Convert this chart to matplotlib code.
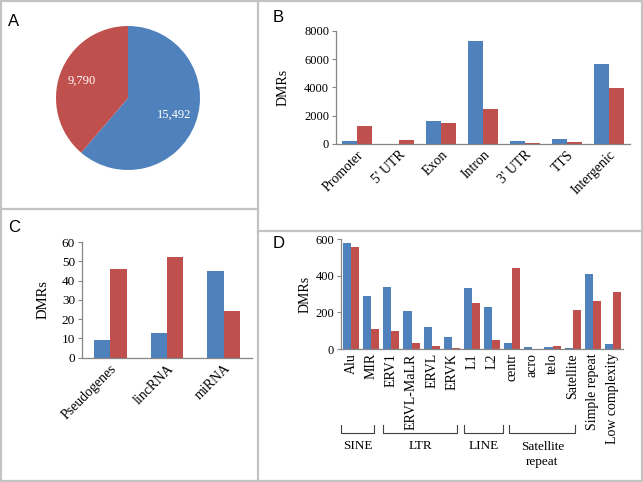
import matplotlib
matplotlib.use("Agg")
import matplotlib.pyplot as plt
from matplotlib.lines import Line2D
import matplotlib.transforms as mtransforms

# ---- data ----
pie_labels = ["15,492", "9,790"]
pie_values = [15492, 9790]

b_categories = ["Promoter", "5' UTR", "Exon", "Intron", "3' UTR", "TTS", "Intergenic"]
b_blue = [235, 0, 1624, 7294, 188, 353, 5670]
b_red = [1294, 282, 1482, 2470, 94, 141, 3929]
b_yticks = [0, 2000, 4000, 6000, 8000]

c_categories = ["Pseudogenes", "lincRNA", "miRNA"]
c_blue = [9, 13, 45]
c_red = [46, 52, 24]
c_yticks = [0, 10, 20, 30, 40, 50, 60]

d_categories = ["Alu", "MIR", "ERV1", "ERVL-MaLR", "ERVL", "ERVK", "L1", "L2",
                "centr", "acro", "telo", "Satellite", "Simple repeat", "Low complexity"]
d_blue = [578, 291, 336, 205, 122, 64, 333, 227, 31, 13, 11, 7, 411, 27]
d_red = [555, 109, 100, 35, 18, 7, 251, 51, 444, 0, 16, 211, 262, 311]
d_yticks = [0, 200, 400, 600]
d_groups = ["SINE", "LTR", "LINE", "Satellite\nrepeat"]

BLUE = "#4F81BD"
RED = "#C0504D"
AXC = "#868686"
SERIF = "Liberation Serif"
SANS = "Liberation Sans"

W, H = 643, 482
fig = plt.figure(figsize=(6.43, 4.82), dpi=100)

def box(x0, y0, x1, y1):
    return [x0 / W, 1 - y1 / H, (x1 - x0) / W, (y1 - y0) / H]

# ---- panel borders ----
bc = "#C3C3C3"
def fline(xs, ys):
    fig.add_artist(Line2D([x / W for x in xs], [1 - y / H for y in ys],
                          color=bc, lw=1.6, transform=fig.transFigure))
fline([1, 642, 642, 1, 1], [1, 1, 481, 481, 1])
fline([258, 258], [0, 482])
fline([0, 258], [209, 209])
fline([258, 643], [231, 231])

# ---- panel letters ----
for lab, x, y in [("A", 8, 21), ("B", 273, 18), ("C", 8, 228), ("D", 273, 243)]:
    fig.text(x / W, 1 - y / H, lab, family=SANS, fontsize=12, va="center", ha="left")

# ---- panel A ----
axA = fig.add_axes(box(56, 26, 200, 170))
wedges, texts = axA.pie(pie_values, labels=pie_labels, colors=[BLUE, RED],
                        startangle=90, counterclock=False, labeldistance=0.69,
                        textprops=dict(color="white", family=SERIF, fontsize=9,
                                       ha="center", va="center"))
for t in texts:
    t.set_ha("center")
axA.set_xlim(-1, 1)
axA.set_ylim(-1, 1)
axA.set_aspect("auto")

def style(ax, fs, xfs):
    for s in ["top", "right"]:
        ax.spines[s].set_visible(False)
    for s in ["left", "bottom"]:
        ax.spines[s].set_color(AXC)
        ax.spines[s].set_linewidth(0.9)
    ax.tick_params(axis="y", length=3, color=AXC, width=0.8, pad=2, labelsize=fs)
    ax.tick_params(axis="x", length=0, pad=3, labelsize=xfs)
    for t in ax.get_yticklabels() + ax.get_xticklabels():
        t.set_family(SERIF)

def bars(ax, blue, red, w):
    x = list(range(len(blue)))
    ax.bar([i - w / 2 for i in x], blue, width=w, color=BLUE)
    ax.bar([i + w / 2 for i in x], red, width=w, color=RED)
    ax.set_xlim(-0.5, len(blue) - 0.5)
    return x

# ---- panel B ----
axB = fig.add_axes(box(336, 30.7, 630, 144))
x = bars(axB, b_blue, b_red, 0.36)
axB.set_ylim(0, 8000)
axB.set_yticks(b_yticks)
axB.set_xticks(x)
axB.set_xticklabels(b_categories, rotation=45, ha="right", rotation_mode="anchor")
axB.set_ylabel("DMRs", family=SERIF, fontsize=10)
axB.yaxis.set_label_coords((290 - 336) / 294, 0.5)
style(axB, 9, 10)

# ---- panel C ----
axC = fig.add_axes(box(82, 242, 252, 357.7))
x = bars(axC, c_blue, c_red, 0.29)
axC.set_ylim(0, 60)
axC.set_yticks(c_yticks)
axC.set_xticks(x)
axC.set_xticklabels(c_categories, rotation=45, ha="right", rotation_mode="anchor")
axC.set_ylabel("DMRs", family=SERIF, fontsize=10.5)
axC.yaxis.set_label_coords((50 - 82) / 170, 0.5)
style(axC, 9.5, 10)

# ---- panel D ----
axD = fig.add_axes(box(341, 239, 623, 349))
x = bars(axD, d_blue, d_red, 0.4)
axD.set_ylim(0, 600)
axD.set_yticks(d_yticks)
axD.set_xticks(x)
axD.set_xticklabels(d_categories, rotation=90, ha="center", va="top")
axD.set_ylabel("DMRs", family=SERIF, fontsize=10)
axD.yaxis.set_label_coords((312 - 341) / 282, 0.5)
style(axD, 9, 10)

trans = mtransforms.blended_transform_factory(axD.transData, axD.transAxes)
spans = [(-0.5, 1.15), (1.6, 5.27), (5.62, 7.56), (7.86, 11.14)]
y_line, y_top = -0.764, -0.69
for (a, b), g in zip(spans, d_groups):
    axD.add_line(Line2D([a, a, b, b], [y_top, y_line, y_line, y_top], color="#404040",
                        lw=0.8, transform=trans, clip_on=False))
    yy = -0.88 if "\n" not in g else -0.96
    axD.text((a + b) / 2, yy, g, transform=trans, ha="center", va="center",
             family=SERIF, fontsize=9.5, linespacing=1.3)

fig.savefig("out.png", dpi=100)
